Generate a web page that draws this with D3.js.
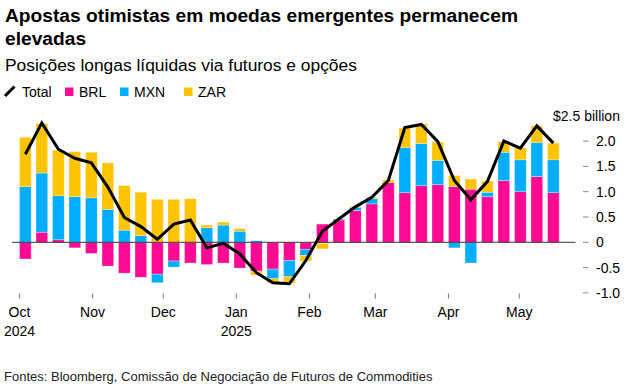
<!DOCTYPE html>
<html>
<head>
<meta charset="utf-8">
<script src="https://cdn.jsdelivr.net/npm/d3@7"></script>
<style>
  body { margin: 0; background: #fff; }
  svg { display: block; font-family: "Liberation Sans", Arial, sans-serif; }
</style>
</head>
<body>
<svg id="chart" width="625" height="389"></svg>
<script>
    // weekly CFTC dates (Tuesdays)
    var dates = ["2024-10-01", "2024-10-08", "2024-10-15", "2024-10-22", "2024-10-29",
        "2024-11-05", "2024-11-12", "2024-11-19", "2024-11-26", "2024-12-03",
        "2024-12-10", "2024-12-17", "2024-12-24", "2024-12-31", "2025-01-07",
        "2025-01-14", "2025-01-21", "2025-01-28", "2025-02-04", "2025-02-11",
        "2025-02-18", "2025-02-25", "2025-03-04", "2025-03-11", "2025-03-18",
        "2025-03-25", "2025-04-01", "2025-04-08", "2025-04-15", "2025-04-22",
        "2025-04-29", "2025-05-06", "2025-05-13"];
    var brl = [-0.33, 0.20, 0.05, -0.11, -0.22, -0.47, -0.61, -0.69, -0.63, -0.37,
        -0.41, -0.44, -0.41, -0.51, -0.57, -0.53, -0.36, -0.14, 0.36, 0.44,
        0.63, 0.76, 1.18, 0.98, 1.12, 1.14, 1.10, 1.05, 0.90, 1.22,
        1.00, 1.30, 0.98];
    var mxn = [1.10, 1.17, 0.87, 0.90, 0.88, 0.65, 0.24, 0.13, -0.17, -0.12,
        0.00, 0.29, 0.34, 0.22, 0.03, -0.19, -0.32, -0.12, -0.02, 0.02,
        0.06, 0.10, 0.00, 0.89, 0.83, 0.48, -0.11, -0.41, 0.09, 0.56,
        0.63, 0.67, 0.65];
    var zar = [0.975, 0.975, 0.90, 0.89, 0.90, 0.92, 0.88, 0.86, 0.85, 0.85,
        0.86, 0.05, 0.06, 0.05, -0.08, -0.08, -0.13, -0.11, -0.11, 0.00,
        0.02, 0.03, 0.05, 0.39, 0.39, 0.36, 0.22, 0.20, 0.22, 0.21,
        0.24, 0.33, 0.33];
    var total = [1.74, 2.36, 1.84, 1.66, 1.57, 1.09, 0.49, 0.31, 0.06, 0.36,
        0.44, -0.11, -0.02, -0.23, -0.60, -0.80, -0.82, -0.36, 0.22, 0.46,
        0.70, 0.89, 1.22, 2.27, 2.33, 1.99, 1.22, 0.84, 1.20, 2.00,
        1.86, 2.30, 1.96];
    var keys = ["BRL", "MXN", "ZAR"];
    var colors = ["#ff0a93", "#00adff", "#ffc400"];
    var yTicks = [-1, -0.5, 0, 0.5, 1, 1.5, 2];
    var yTickLabels = ["-1.0", "-0.5", "0", "0.5", "1.0", "1.5", "2.0"];
    var monthTicks = ["2024-10-01", "2024-11-01", "2024-12-01", "2025-01-01",
        "2025-02-01", "2025-03-01", "2025-04-01", "2025-05-01"];
    var monthLabels = ["Oct", "Nov", "Dec", "Jan", "Feb", "Mar", "Apr", "May"];
    var yearLabels = ["2024", "", "", "2025", "", "", "", ""];

    var parse = d3.utcParse("%Y-%m-%d");
    var svg = d3.select("#chart");

    var x = d3.scaleUtc()
        .domain([parse("2024-10-01"), parse("2025-05-13")])
        .range([19.5, 547.5]);
    var y = d3.scaleLinear().domain([-1, 2.5]).range([292.9, 115.8]);
    var bw = 11.7;

    var rows = dates.map(function (d, i) {
        return { date: parse(d), BRL: brl[i], MXN: mxn[i], ZAR: zar[i], total: total[i] };
    });

    // titles
    svg.append("text").attr("x", 5).attr("y", 22)
        .style("font-size", "19.2px").style("font-weight", "bold").attr("fill", "#000")
        .text("Apostas otimistas em moedas emergentes permanecem");
    svg.append("text").attr("x", 5).attr("y", 45)
        .style("font-size", "19.2px").style("font-weight", "bold").attr("fill", "#000")
        .text("elevadas");
    svg.append("text").attr("x", 5).attr("y", 71)
        .style("font-size", "17.4px").attr("fill", "#000")
        .text("Posições longas líquidas via futuros e opções");

    // legend
    var lg = svg.append("g");
    lg.append("line").attr("x1", 5).attr("y1", 96).attr("x2", 14.5).attr("y2", 86.5)
        .attr("stroke", "#000").attr("stroke-width", 3);
    lg.append("text").attr("x", 22).attr("y", 97).style("font-size", "14px").text("Total");
    var legendX = [65, 120, 184];
    keys.forEach(function (k, i) {
        lg.append("rect").attr("x", legendX[i]).attr("y", 87.5)
            .attr("width", 8.5).attr("height", 8.5).attr("fill", colors[i]);
        lg.append("text").attr("x", legendX[i] + 14).attr("y", 97)
            .style("font-size", "14px").text(k);
    });

    // y axis (right)
    var ya = svg.append("g");
    yTicks.forEach(function (t, i) {
        ya.append("line").attr("x1", 583).attr("x2", 588.5)
            .attr("y1", y(t)).attr("y2", y(t))
            .attr("stroke", "#888").attr("stroke-width", 1);
        ya.append("text").attr("x", 596).attr("y", y(t) + 5)
            .style("font-size", "14px").text(yTickLabels[i]);
    });
    ya.append("text").attr("x", 553).attr("y", y(2.5) + 5)
        .style("font-size", "14px").text("$2.5 billion");

    // stacked bars
    var stack = d3.stack().keys(keys).offset(d3.stackOffsetDiverging);
    var series = stack(rows);
    svg.append("g").selectAll("g")
        .data(series)
        .enter().append("g")
        .attr("fill", function (d, i) { return colors[i]; })
        .selectAll("rect")
        .data(function (d) { return d; })
        .enter().append("rect")
        .attr("x", function (d) { return x(d.data.date); })
        .attr("width", bw)
        .attr("y", function (d) { return y(Math.max(d[0], d[1])); })
        .attr("height", function (d) { return Math.abs(y(d[0]) - y(d[1])); })
        .attr("stroke", "#fff").attr("stroke-width", 0.6).attr("stroke-opacity", 0.5);

    // zero line
    svg.append("line").attr("x1", 12).attr("x2", 575.5)
        .attr("y1", y(0)).attr("y2", y(0))
        .attr("stroke", "#333").attr("stroke-width", 1);

    // total line
    var line = d3.line()
        .x(function (d) { return x(d.date) + bw / 2; })
        .y(function (d) { return y(d.total); });
    svg.append("path").datum(rows)
        .attr("d", line)
        .attr("fill", "none").attr("stroke", "#000")
        .attr("stroke-width", 3).attr("stroke-linejoin", "miter");

    // x axis
    var xa = svg.append("g");
    monthTicks.forEach(function (m, i) {
        var px = x(parse(m));
        xa.append("line").attr("x1", px).attr("x2", px).attr("y1", 293.5).attr("y2", 298.5)
            .attr("stroke", "#888").attr("stroke-width", 1.2);
        xa.append("text").attr("x", px).attr("y", 317).attr("text-anchor", "middle")
            .style("font-size", "14px").text(monthLabels[i]);
        if (yearLabels[i]) {
            xa.append("text").attr("x", px).attr("y", 336).attr("text-anchor", "middle")
                .style("font-size", "14px").text(yearLabels[i]);
        }
    });

    // source
    svg.append("text").attr("x", 4).attr("y", 381)
        .style("font-size", "13px").attr("fill", "#222")
        .text("Fontes: Bloomberg, Comissão de Negociação de Futuros de Commodities");
</script>
</body>
</html>
